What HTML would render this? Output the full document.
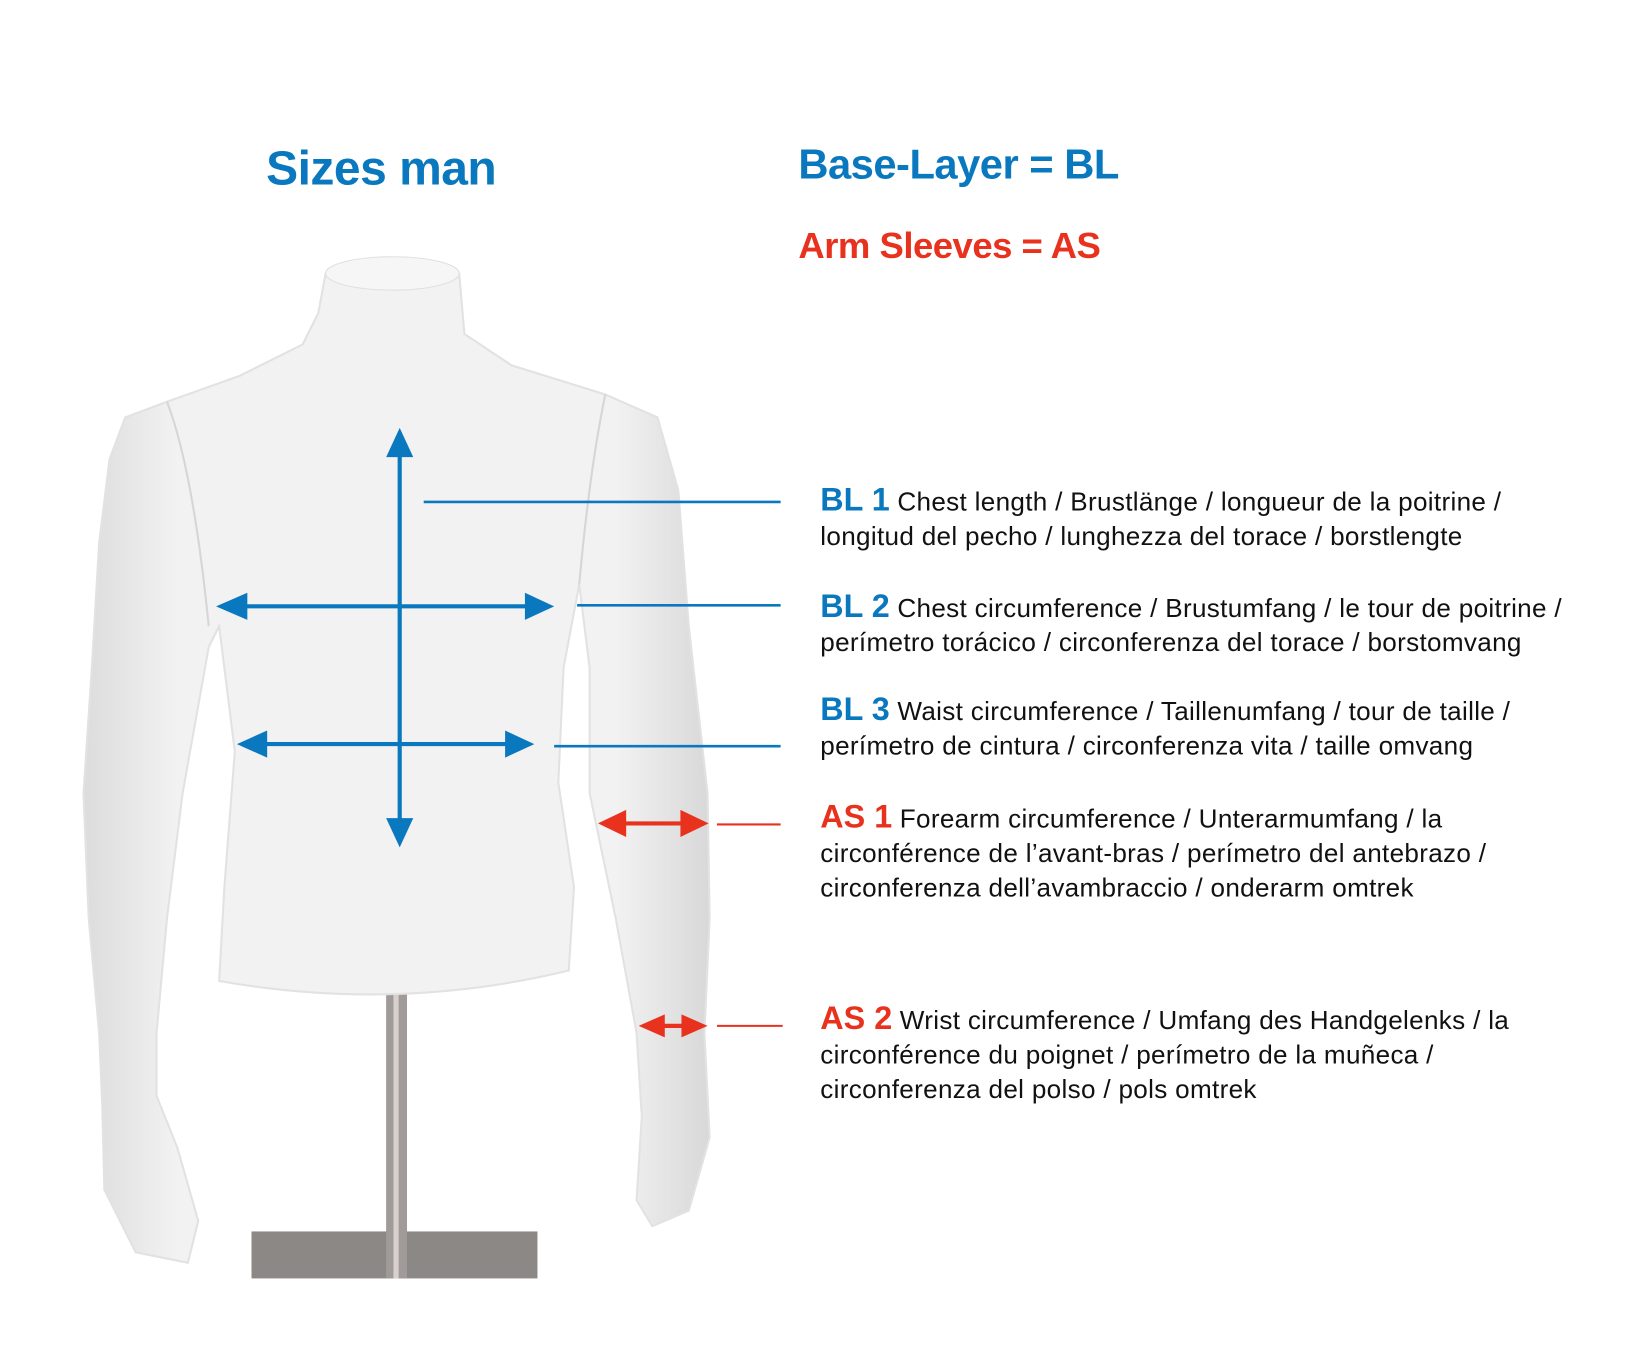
<!DOCTYPE html>
<html><head><meta charset="utf-8"><style>
html,body{margin:0;padding:0;background:#fff;}
#w{width:1628px;height:1368px;overflow:hidden;position:relative;}
#c{position:absolute;left:0;top:0;width:1560px;height:1311px;transform:scale(1.0436);transform-origin:0 0;font-family:"Liberation Sans",sans-serif;}
.t{position:absolute;white-space:nowrap;color:#111;}
.h{font-weight:bold;letter-spacing:-0.5px;}
.b{color:#0a78be}.r{color:#e8321e}
.body{font-size:25px;line-height:33px;letter-spacing:0.3px;}
.lab{font-size:31px;font-weight:bold;letter-spacing:0;}
</style></head><body><div id="w"><div id="c">
<svg width="1560" height="1311" style="position:absolute;left:0;top:0">
<defs>
<linearGradient id="g" x1="0" x2="1" y1="0" y2="0">
<stop offset="0" stop-color="#dcdcdc"/><stop offset="0.15" stop-color="#f2f2f2"/><stop offset="0.85" stop-color="#f2f2f2"/><stop offset="1" stop-color="#d8d8d8"/></linearGradient>
</defs>
<rect x="241" y="1180" width="274" height="45" fill="#8c8886"/>
<rect x="370" y="950" width="20" height="275" fill="#a09a98"/>
<rect x="377" y="950" width="5" height="275" fill="#d8d0cc"/>
<path d="M312,262 L305,300 L290,330 L230,360 L160,385 L120,400 L105,440 L95,520 L88,640 L80,760 L85,880 L95,990 L98,1060 L100,1140 L130,1200 L180,1210 L190,1170 L170,1100 L150,1050 L150,990 L160,880 L175,760 L200,620 L210,600 L225,720 L215,850 L210,940 Q380,970 545,930 L550,850 L535,750 L540,640 L555,560 L565,640 L565,760 L590,880 L610,990 L615,1070 L610,1150 L625,1175 L660,1160 L680,1090 L675,990 L680,880 L678,760 L660,600 L650,470 L630,400 L580,378 L490,350 L445,320 L440,262 Z" fill="url(#g)" stroke="#e2e2e2" stroke-width="2"/>
<ellipse cx="376" cy="262" rx="64" ry="16" fill="#f6f6f6" stroke="#e0e0e0"/>
<path d="M160,385 Q185,450 200,600 M580,378 Q565,450 555,560" stroke="#d6d6d6" stroke-width="2" fill="none"/>
<g stroke="#0a78be" stroke-width="4" fill="#0a78be">
<line x1="383" y1="430" x2="383" y2="792"/>
<line x1="228" y1="581" x2="512" y2="581"/>
<line x1="248" y1="713" x2="492" y2="713"/>
</g>
<g fill="#0a78be">
<path d="M370,438 L383,410 L396,438 Z"/><path d="M370,784 L383,812 L396,784 Z"/>
<path d="M237,568 L207,581 L237,594 Z"/><path d="M503,568 L531,581 L503,594 Z"/>
<path d="M256,700 L227,713 L256,726 Z"/><path d="M484,700 L512,713 L484,726 Z"/>
</g>
<g stroke="#0a78be" stroke-width="2.5">
<line x1="406" y1="481" x2="748" y2="481"/>
<line x1="553" y1="580" x2="748" y2="580"/>
<line x1="531" y1="715" x2="748" y2="715"/>
</g>
<g stroke="#e8321e" stroke-width="4"><line x1="590" y1="789" x2="662" y2="789"/><line x1="625" y1="983" x2="665" y2="983"/></g>
<g fill="#e8321e">
<path d="M600,776 L573,789 L600,802 Z"/><path d="M652,776 L679,789 L652,802 Z"/>
<path d="M637,972 L612,983 L637,994 Z"/><path d="M653,972 L678,983 L653,994 Z"/>
</g>
<g stroke="#e8321e" stroke-width="2"><line x1="687" y1="790" x2="748" y2="790"/><line x1="687" y1="983" x2="750" y2="983"/></g>
</svg>
<div class="t h b" style="left:255px;top:134px;font-size:46px">Sizes man</div>
<div class="t h b" style="left:765px;top:136px;font-size:40px">Base-Layer = BL</div>
<div class="t h r" style="left:765px;top:216px;font-size:35px">Arm Sleeves = AS</div>
<div class="t body" style="left:786px;top:462px"><span class="lab b">BL 1</span> Chest length / Brustlänge / longueur de la poitrine /<br>longitud del pecho / lunghezza del torace / borstlengte</div>
<div class="t body" style="left:786px;top:564px"><span class="lab b">BL 2</span> Chest circumference / Brustumfang / le tour de poitrine /<br>perímetro torácico / circonferenza del torace / borstomvang</div>
<div class="t body" style="left:786px;top:663px"><span class="lab b">BL 3</span> Waist circumference / Taillenumfang / tour de taille /<br>perímetro de cintura / circonferenza vita / taille omvang</div>
<div class="t body" style="left:786px;top:766px"><span class="lab r">AS 1</span> Forearm circumference / Unterarmumfang / la<br>circonférence de l’avant-bras / perímetro del antebrazo /<br>circonferenza dell’avambraccio / onderarm omtrek</div>
<div class="t body" style="left:786px;top:959px"><span class="lab r">AS 2</span> Wrist circumference / Umfang des Handgelenks / la<br>circonférence du poignet / perímetro de la muñeca /<br>circonferenza del polso / pols omtrek</div>
</div></div></body></html>
